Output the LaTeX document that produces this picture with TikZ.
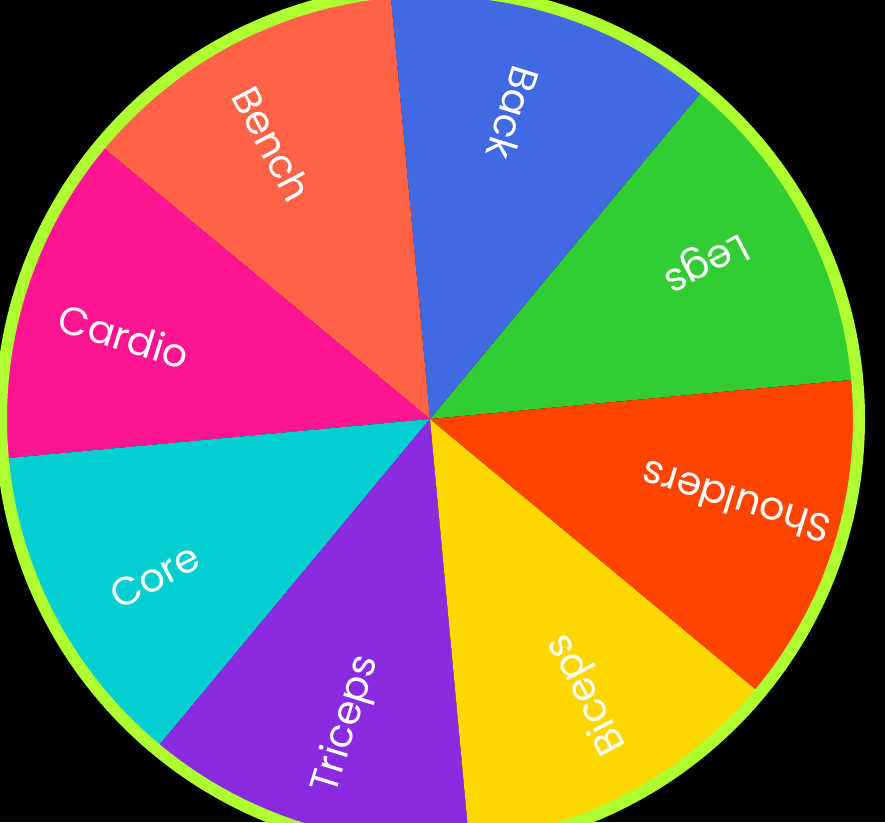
\documentclass[tikz,border=0pt]{standalone}
\usepackage{fontspec}
\setmainfont{Poppins}
\usetikzlibrary{calc}

\definecolor{backblue}{HTML}{4169E1}
\definecolor{legsgreen}{HTML}{32CD32}
\definecolor{shoulderred}{HTML}{FF4500}
\definecolor{bicepsgold}{HTML}{FFD700}
\definecolor{tricepsviolet}{HTML}{8A2BE2}
\definecolor{coreturq}{HTML}{00CED1}
\definecolor{cardiopink}{HTML}{FF1493}
\definecolor{benchtomato}{HTML}{FF6347}
\definecolor{rimgreen}{HTML}{ADFF2F}

\begin{document}
\begin{tikzpicture}[x=1pt, y=1pt,
  lbl/.style={text=white, inner sep=0pt, font=\fontsize{39.5}{44}\selectfont},
  rim/.style={draw=rimgreen, line width=12pt}]
%
% --- Canvas ---
\useasboundingbox (0,0) rectangle (885,822);
\fill[black] (0,0) rectangle (885,822);
\clip (0,0) rectangle (885,822);
\coordinate (hub) at (430,403);
%
% --- Segments (45 degrees each) ---
\fill[legsgreen] (hub) -- ++(5.3:429) arc[start angle=5.3, end angle=50.3, radius=429pt] -- cycle;
\fill[backblue] (hub) -- ++(50.3:429) arc[start angle=50.3, end angle=95.3, radius=429pt] -- cycle;
\fill[benchtomato] (hub) -- ++(95.3:429) arc[start angle=95.3, end angle=140.3, radius=429pt] -- cycle;
\fill[cardiopink] (hub) -- ++(140.3:429) arc[start angle=140.3, end angle=185.3, radius=429pt] -- cycle;
\fill[coreturq] (hub) -- ++(185.3:429) arc[start angle=185.3, end angle=230.3, radius=429pt] -- cycle;
\fill[tricepsviolet] (hub) -- ++(230.3:429) arc[start angle=230.3, end angle=275.3, radius=429pt] -- cycle;
\fill[bicepsgold] (hub) -- ++(275.3:429) arc[start angle=275.3, end angle=320.3, radius=429pt] -- cycle;
\fill[shoulderred] (hub) -- ++(320.3:429) arc[start angle=320.3, end angle=365.3, radius=429pt] -- cycle;
%
% --- Rim ---
\draw[rim] (hub) circle[radius=429pt];
%
% --- Labels ---
\node[lbl, rotate=207.8] (legs) at ($(hub)+(29.8:317)$) {Legs};
\node[lbl, rotate=252.8] (back) at ($(hub)+(74.8:317)$) {Back};
\node[lbl, rotate=297.8] (bench) at ($(hub)+(119.8:317)$) {Bench};
\node[lbl, rotate=342.8] (cardio) at ($(hub)+(164.8:317)$) {Cardio};
\node[lbl, rotate=27.8] (core) at ($(hub)+(209.8:317)$) {Core};
\node[lbl, rotate=72.8] (triceps) at ($(hub)+(254.8:317)$) {Triceps};
\node[lbl, rotate=117.8] (biceps) at ($(hub)+(299.8:317)$) {Biceps};
\node[lbl, rotate=162.8] (shoulders) at ($(hub)+(344.8:317)$) {Shoulders};
%
\end{tikzpicture}
\end{document}
